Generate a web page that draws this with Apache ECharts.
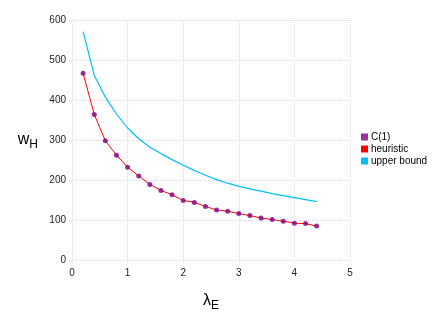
<!DOCTYPE html>
<html>
<head>
<meta charset="utf-8">
<script src="https://cdn.jsdelivr.net/npm/echarts@6/dist/echarts.min.js"></script>
<style>
  html, body { margin: 0; padding: 0; background: #fff; }
  #chart { width: 436px; height: 327px; }
</style>
</head>
<body>
<div id="chart"></div>
<script>
const lambdaE = [0.2, 0.4, 0.6, 0.8, 1.0, 1.2, 1.4, 1.6, 1.8, 2.0, 2.2, 2.4, 2.6, 2.8, 3.0, 3.2, 3.4, 3.6, 3.8, 4.0, 4.2, 4.4];
const c1Values = [467, 364, 298, 262, 232, 210, 189, 174, 163, 149, 144, 134, 125, 122, 116, 111, 105, 101, 97, 92, 91, 85];
const heuristicValues = [467, 364, 298, 262, 232, 210, 189, 174, 163, 149, 144, 134, 125, 122, 116, 111, 105, 101, 97, 92, 91, 85];
const upperBoundValues = [571, 462, 407, 365, 330, 303, 282, 266, 251, 237, 224, 212, 201, 192, 184, 178, 172, 166, 161, 156, 151, 146];

const gridColor = '#d8d8e8';
const font = 'Liberation Sans, Arial, sans-serif';

function pairs(xs, ys) {
  return xs.map((x, i) => [x, ys[i]]);
}

const chart = echarts.init(document.getElementById('chart'));
chart.setOption({
  animation: false,
  textStyle: { fontFamily: font },
  grid: { left: 72, right: 86, top: 20, bottom: 67 },
  legend: {
    orient: 'vertical',
    left: 356,
    top: 127,
    itemWidth: 7,
    itemHeight: 7,
    itemGap: 2,
    icon: 'rect',
    textStyle: { fontSize: 10, color: '#000', padding: [0, 0, 0, -2] },
    data: ['C(1)', 'heuristic', 'upper bound']
  },
  xAxis: {
    type: 'value',
    min: 0,
    max: 5,
    interval: 1,
    name: '{l|λ}{s|E}',
    nameLocation: 'middle',
    nameGap: 30,
    nameTextStyle: {
      rich: {
        l: { fontSize: 16, color: '#000', fontFamily: font },
        s: { fontSize: 12, color: '#000', fontFamily: font, verticalAlign: 'bottom', padding: [10, 0, 0, 0] }
      }
    },
    axisLine: { show: false },
    axisTick: { show: true, length: 3, lineStyle: { color: gridColor, type: 'dotted' } },
    axisLabel: { fontSize: 10, color: '#222', margin: 8 },
    splitLine: { show: true, lineStyle: { color: gridColor, type: 'dotted' } }
  },
  yAxis: {
    type: 'value',
    min: 0,
    max: 600,
    interval: 100,
    name: '{w|w}{s|H}',
    nameLocation: 'middle',
    nameRotate: 0,
    nameGap: 34,
    nameTextStyle: {
      rich: {
        w: { fontSize: 16, color: '#000', fontFamily: font },
        s: { fontSize: 12, color: '#000', fontFamily: font, verticalAlign: 'bottom', padding: [10, 0, 0, 0] }
      }
    },
    axisLine: { show: false },
    axisTick: { show: true, length: 4, lineStyle: { color: gridColor, type: 'dotted' } },
    axisLabel: { fontSize: 10, color: '#222', margin: 6 },
    splitLine: { show: true, lineStyle: { color: gridColor, type: 'dotted' } }
  },
  series: [
    {
      name: 'heuristic',
      type: 'line',
      data: pairs(lambdaE, heuristicValues),
      symbol: 'none',
      itemStyle: { color: '#ff0000' },
      lineStyle: { color: '#ff0000', width: 1 },
      z: 2
    },
    {
      name: 'upper bound',
      type: 'line',
      data: pairs(lambdaE, upperBoundValues),
      symbol: 'none',
      itemStyle: { color: '#00bfff' },
      lineStyle: { color: '#00bfff', width: 1.2 },
      z: 2
    },
    {
      name: 'C(1)',
      type: 'scatter',
      data: pairs(lambdaE, c1Values),
      symbol: 'circle',
      symbolSize: 5,
      itemStyle: { color: '#800080' },
      z: 3
    }
  ]
});
</script>
</body>
</html>
